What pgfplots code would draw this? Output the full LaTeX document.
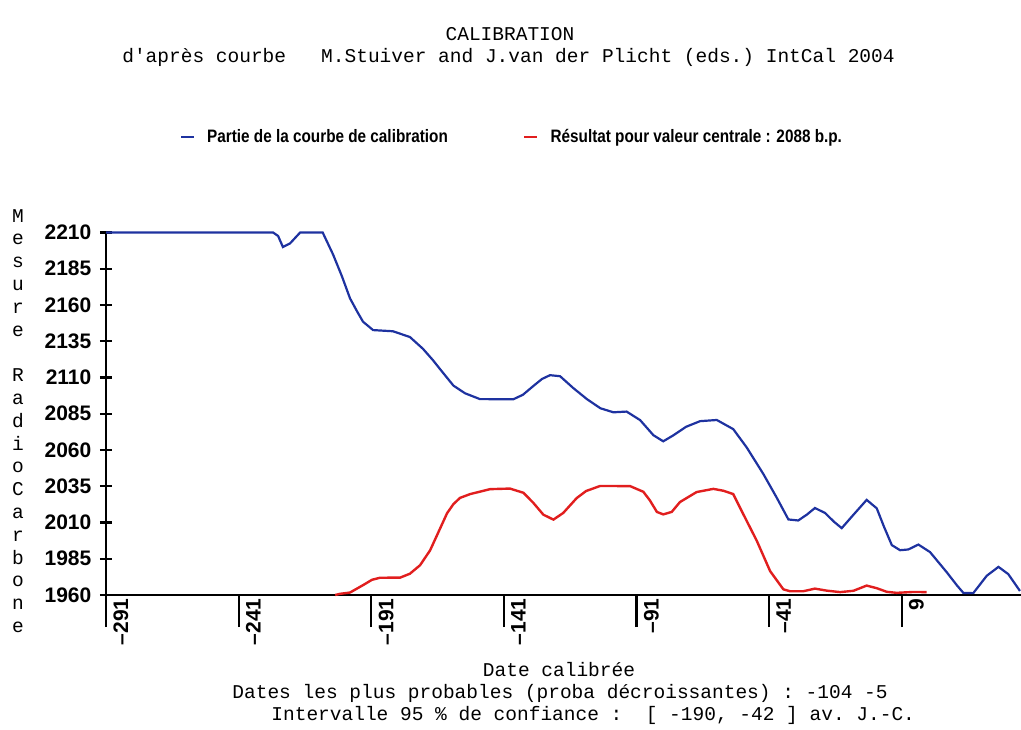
\documentclass[border=0pt]{standalone}
\usepackage{fontspec}
\setmainfont{Liberation Sans}
\setmonofont{Liberation Mono}
\newfontfamily\legfont[FakeStretch=0.85]{Liberation Sans}
\usepackage{pgfplots}
\pgfplotsset{compat=1.18}
\definecolor{cblue}{RGB}{30,50,160}
\definecolor{cred}{RGB}{225,30,30}
\begin{document}
\begin{tikzpicture}
\begin{axis}[
  scale only axis, width=457.5pt, height=181.25pt,
  xmin=-291, xmax=54, ymin=1960, ymax=2210,
  axis x line=bottom, axis y line=left,
  axis line style={-, line width=1.1pt, black},
  x axis line style={shorten <=-3pt},
  xtick={-291,-241,-191,-141,-91,-41,9},
  xticklabels={–291,–241,–191,–141,–91,–41,9},
  ytick={1960,1985,2010,2035,2060,2085,2110,2135,2160,2185,2210},
  yticklabels={1960,1985,2010,2035,2060,2085,2110,2135,2160,2185,2210},
  xtick align=outside, ytick align=center,
  xtick style={line width=1.1pt, black, /pgfplots/major tick length=16pt},
  ytick style={line width=1.1pt, black, /pgfplots/major tick length=6pt},
  xticklabel style={font=\bfseries\fontsize{10.5}{12}\selectfont, inner sep=0pt, rotate=90, anchor=north east, xshift=2.7pt, yshift=-3.5pt},
  yticklabel style={font=\bfseries\fontsize{10.5}{12}\selectfont, inner sep=0pt, anchor=east, xshift=-5pt},
  clip=false,
  legend style={at={(axis description cs:0.0809,1.2634)}, anchor=west, draw=none, fill=none,
    inner sep=0pt, outer sep=0pt, legend columns=2,
    font=\legfont\bfseries\fontsize{9}{11}\selectfont,
    /tikz/every odd column/.style={column sep=4pt},
    /tikz/every even column/.style={column sep=0pt}},
  legend cell align=left,
  legend image code/.code={\draw[#1] (0pt,0pt) -- (6.5pt,0pt);},
]
\addplot[cblue, line width=1.1pt] coordinates {
(-291,2210) (-228.0,2210) (-226.1,2207.6) (-224.3,2200.0) (-221.6,2202.5) (-217.8,2210) (-209.3,2210)
(-205.4,2194.9) (-202.0,2179.6) (-199.0,2164.6) (-196.3,2155.5) (-194.1,2148.5) (-190.3,2142.7)
(-182.8,2141.9) (-176.4,2137.9) (-171.5,2129.8) (-167.7,2121.9) (-165.1,2115.9) (-160.0,2104.4)
(-155.6,2099.1) (-150.0,2095.1) (-137.4,2095.0) (-133.8,2098.1) (-129.9,2104.1) (-126.6,2109.0)
(-123.6,2111.6) (-119.8,2110.9) (-114.8,2102.7) (-109.6,2095.0) (-104.6,2088.8) (-99.7,2086.0)
(-94.7,2086.5) (-89.6,2080.6) (-84.6,2070.2) (-80.9,2066.0) (-77.1,2070.1) (-72.3,2076.0)
(-67.0,2079.9) (-60.7,2080.7) (-54.5,2074.4) (-49.4,2061.7) (-43.1,2043.3) (-38.1,2027.1)
(-33.7,2012.1) (-30.0,2011.4) (-26.7,2015.5) (-23.7,2020.0) (-19.9,2016.6) (-16.5,2010.5)
(-13.6,2006.1) (-9.2,2015.3) (-4.2,2025.6) (-0.4,2019.8) (2.4,2006.8) (5.3,1994.4) (8.4,1990.9)
(11.5,1991.4) (15.3,1994.8) (19.7,1989.6) (26.0,1975.7) (29.9,1966.5) (32.3,1961.4) (36.0,1961.3)
(41.1,1973.3) (45.5,1979.4) (49.2,1974.4) (53.6,1962.8)
};
\addlegendentry{\makebox[156pt][l]{Partie de la courbe de calibration}}
\addplot[cred, line width=1.2pt] coordinates {
(-204.6,1960) (-202.8,1960.8) (-199.0,1961.7) (-194.0,1966.9) (-190.7,1970.5) (-187.7,1971.9)
(-180.1,1972.0) (-176.4,1974.7) (-172.6,1980.5) (-168.8,1990.8) (-165.1,2005.6) (-162.4,2016.4)
(-160.0,2022.7) (-157.5,2027.0) (-153.7,2029.6) (-146.2,2033.0) (-138.7,2033.4) (-133.6,2030.5)
(-129.9,2023.6) (-126.1,2015.4) (-122.3,2012.0) (-118.6,2016.6) (-113.5,2026.9) (-110.0,2031.7)
(-104.7,2035.2) (-93.4,2035.1) (-88.4,2031.2) (-85.9,2025.2) (-83.3,2017.3) (-80.9,2015.6)
(-77.7,2017.3) (-74.6,2024.1) (-68.3,2031.0) (-62.0,2033.2) (-58.2,2031.9) (-54.5,2029.6)
(-50.7,2015.7) (-45.6,1997.3) (-40.6,1976.5) (-35.6,1963.9) (-33.1,1962.6) (-28.1,1962.6)
(-23.7,1964.4) (-19.2,1963.0) (-14.2,1962.0) (-9.2,1962.9) (-4.2,1966.5) (-0.4,1964.7)
(3.4,1962.2) (7.1,1961.5) (13.4,1962.1) (18.4,1962.0)
};
\addlegendentry{R\'esultat pour valeur centrale : 2088 b.p.}
\end{axis}
\begin{scope}[font=\ttfamily\fontsize{9.75}{11}\selectfont]
\node[anchor=base, inner sep=0pt] at (202pt,277pt) {CALIBRATION};
\node[anchor=base, inner sep=0pt] at (201.25pt,266pt) {d'après courbe\ \ \ M.Stuiver and J.van der Plicht (eds.) IntCal 2004};
\node[anchor=base, inner sep=0pt] at (226.5pt,-40.5pt) {Date calibrée};
\node[anchor=base west, inner sep=0pt] at (63pt,-51.5pt) {Dates les plus probables (proba décroissantes) : -104 -5};
\node[anchor=base west, inner sep=0pt] at (82.5pt,-62.5pt) {Intervalle 95 \% de confiance :\ \ [ -190, -42 ] av. J.-C.};
\node[anchor=center, inner sep=0pt, align=center, font=\ttfamily\fontsize{9.75}{11.4}\selectfont] at (-44pt,87pt)
 {M\\e\\s\\u\\r\\e\\\mbox{}\\R\\a\\d\\i\\o\\C\\a\\r\\b\\o\\n\\e};
\end{scope}
\pgfresetboundingbox
\useasboundingbox (-53pt,-67pt) rectangle (457.5pt,297.5pt);
\end{tikzpicture}
\end{document}
